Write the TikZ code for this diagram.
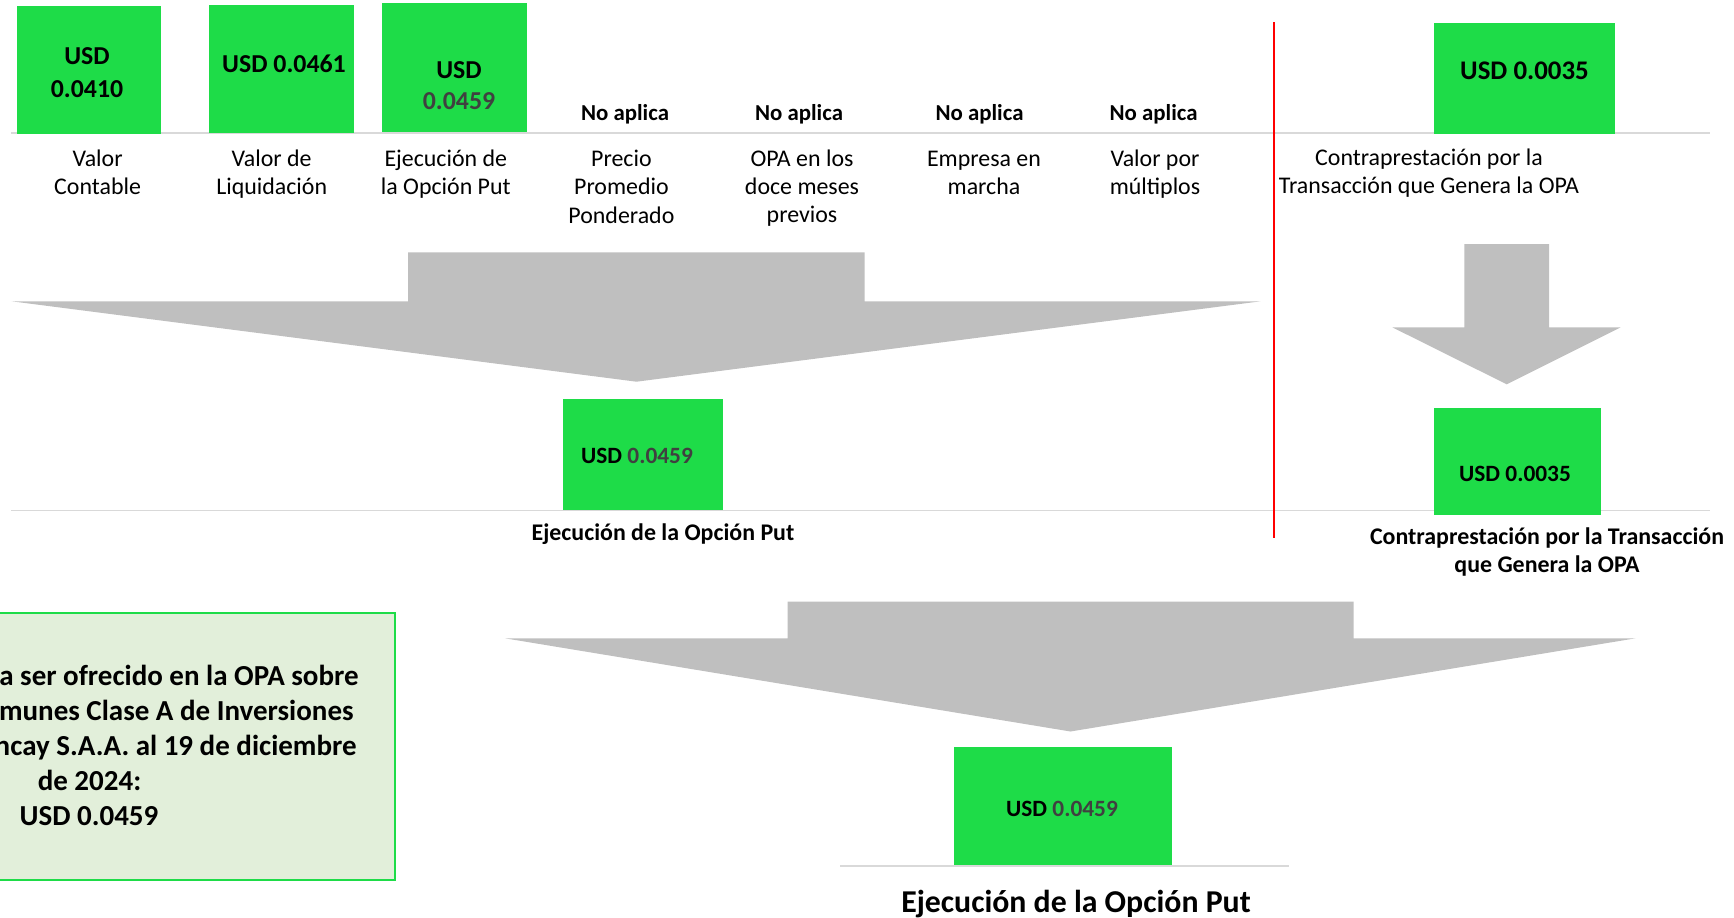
\documentclass[tikz,border=0pt]{standalone}
\usepackage{fontspec}
\setmainfont{Carlito}
\usepackage{xcolor}
\usetikzlibrary{positioning}

\definecolor{boxgreen}{HTML}{1EDC48}
\definecolor{numgray}{HTML}{404040}
\definecolor{arrowgray}{HTML}{BFBFBF}
\definecolor{linegray}{HTML}{D9D9D9}
\definecolor{notefill}{HTML}{E2EFDA}

\tikzset{
  valbox/.style={fill=boxgreen},
  sepline/.style={draw=linegray, line width=1.1pt},
  arrowblock/.style={fill=arrowgray},
  topval/.style={font=\bfseries\fontsize{14.7}{18.7}\selectfont, align=center, anchor=north, inner sep=0pt},
  noap/.style={font=\bfseries\fontsize{13}{15}\selectfont, anchor=base, inner sep=0pt},
  lbl/.style={font=\fontsize{13.6}{16}\selectfont, align=center, anchor=north, inner sep=0pt},
  midval/.style={font=\bfseries\fontsize{13.3}{16}\selectfont, anchor=base, inner sep=0pt},
  midlbl/.style={font=\bfseries\fontsize{13.6}{16}\selectfont, anchor=base, inner sep=0pt},
  notetxt/.style={font=\bfseries\fontsize{16.5}{19.8}\selectfont, anchor=base, inner sep=0pt}
}

\begin{document}
\begin{tikzpicture}[x=0.02cm, y=-0.02cm]
\clip (0,0) rectangle (1734,917);

% lines
\draw[sepline] (11,133) -- (1710,133);
\draw[sepline] (11,510.5) -- (1710,510.5);
\draw[sepline] (840,866) -- (1289,866);
\draw[red, line width=0.75pt] (1274,22) -- (1274,538);

% top values
\fill[valbox] (17,6) rectangle (161,134);
\fill[valbox] (209,5) rectangle (354,133);
\fill[valbox] (382,3) rectangle (527,132);
\fill[valbox] (1434,23) rectangle (1615,134);

\node[topval] (vcont) at (87,47.6) {USD\\0.0410};
\node[topval, anchor=base] (vliq) at (284,72.4) {USD 0.0461};
\node[topval, font=\bfseries\fontsize{14.7}{17.8}\selectfont] (vput) at (459,60.9) {USD\\\textcolor{numgray}{0.0459}};
\node[topval, anchor=base, font=\bfseries\fontsize{15.3}{18}\selectfont] (vopa) at (1524.5,79.4) {USD 0.0035};

\foreach \x/\n in {625/na1, 799/na2, 979.5/na3, 1153.6/na4}
  \node[noap] (\n) at (\x,120.7) {No aplica};

% labels
\node[lbl] (lcont) at (97.6,149.5) {Valor\\Contable};
\node[lbl] (lliq) at (271.7,149.5) {Valor de\\Liquidación};
\node[lbl] (lput) at (445.8,149.5) {Ejecución de\\la Opción Put};
\node[lbl] (lprom) at (621.4,150) {Precio\\Promedio\\Ponderado};
\node[lbl] (lprev) at (802,149.5) {OPA en los\\doce meses\\previos};
\node[lbl] (lemp) at (984,150.5) {Empresa en\\marcha};
\node[lbl] (lmult) at (1155,149.5) {Valor por\\múltiplos};
\node[lbl] (lopa) at (1429,148.5) {Contraprestación por la\\Transacción que Genera la OPA};

% arrows
\fill[arrowblock] (408,252.3) -- (864.7,252.3) -- (864.7,301.3) -- (1260.7,301.3) -- (636.5,381.7) -- (11.7,301.3) -- (408,301.3) -- cycle;
\fill[arrowblock] (1464.3,244) -- (1549,244) -- (1549,327.3) -- (1620.7,327.3) -- (1506.7,384.3) -- (1392.3,327.3) -- (1464.3,327.3) -- cycle;
\fill[arrowblock] (787.7,601.7) -- (1353.6,601.7) -- (1353.6,638.3) -- (1635.6,638.3) -- (1070.5,731.5) -- (505,638.3) -- (787.7,638.3) -- cycle;

% middle row
\fill[valbox] (563,399) rectangle (723,510);
\node[midval] (mput) at (637,463.6) {USD \textcolor{numgray}{0.0459}};
\node[midlbl] (lmput) at (663,540.7) {Ejecución de la Opción Put};

\fill[valbox] (1434,408) rectangle (1601,514.7);
\node[midval] (mopa) at (1515,481) {USD 0.0035};
\node[midlbl, anchor=north, align=center] (lmopa) at (1547,527) {Contraprestación por la Transacción\\que Genera la OPA};

% result
\fill[valbox] (954,747) rectangle (1172,865);
\node[midval] (bput) at (1062,816.6) {USD \textcolor{numgray}{0.0459}};
\node[midlbl, font=\bfseries\fontsize{18.1}{22}\selectfont] (lbput) at (1076,912) {Ejecución de la Opción Put};

% note
\filldraw[fill=notefill, draw=boxgreen, line width=0.85pt] (-217,613) rectangle (395,880);
\node[notetxt, anchor=base east] (note1) at (359,685) {a ser ofrecido en la OPA sobre};
\node[notetxt, anchor=base east] (note2) at (354,720) {munes Clase A de Inversiones};
\node[notetxt, anchor=base east] (note3) at (357,755.6) {ncay S.A.A. al 19 de diciembre};
\node[notetxt] (note4) at (89.5,790) {de 2024:};
\node[notetxt] (note5) at (89,825) {USD 0.0459};

\end{tikzpicture}
\end{document}
